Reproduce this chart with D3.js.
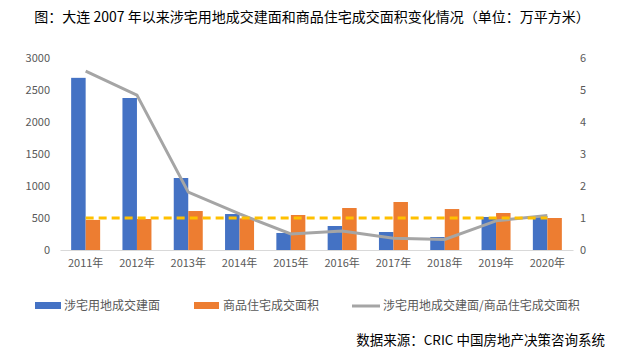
<!DOCTYPE html>
<html><head><meta charset="utf-8">
<script src="https://cdn.jsdelivr.net/npm/d3@7"></script>
<style>body{margin:0;background:#fff}svg{display:block}</style>
</head><body>
<svg id="c" width="619" height="356"></svg>
<script>
const categories = ["2011年","2012年","2013年","2014年","2015年","2016年","2017年","2018年","2019年","2020年"];
const landArea = [2690, 2375, 1125, 562, 266, 375, 281, 203, 516, 531];
const houseArea = [470, 484, 609, 495, 547, 656, 750, 640, 578, 500];
const ratio = [5.59, 4.84, 1.81, 1.13, 0.5, 0.59, 0.37, 0.33, 0.91, 1.08];
const refValue = 1;
const leftTicks = [0, 500, 1000, 1500, 2000, 2500, 3000];
const rightTicks = [0, 1, 2, 3, 4, 5, 6];
const titleText = "图：大连 2007 年以来涉宅用地成交建面和商品住宅成交面积变化情况（单位：万平方米）";
const legendLabels = ["涉宅用地成交建面", "商品住宅成交面积", "涉宅用地成交建面/商品住宅成交面积"];
const sourceText = "数据来源：CRIC 中国房地产决策咨询系统";

const font = "'Noto Sans CJK SC', 'Noto Sans', sans-serif";
const svg = d3.select("#c");
const L = 60, R = 573, T = 58, B = 250;

const x = d3.scaleBand().domain(categories).range([L, R]).paddingInner(0).paddingOuter(0);
const yL = d3.scaleLinear().domain([0, 3000]).range([B, T]);
const yR = d3.scaleLinear().domain([0, 6]).range([B, T]);
const bw = 14.5;

svg.append("text").attr("x", 312).attr("y", 22).attr("text-anchor", "middle")
  .attr("font-family", font).attr("font-size", 14).attr("fill", "#000").text(titleText);

// left axis
const axL = svg.append("g").attr("transform", `translate(${L},0)`)
  .call(d3.axisLeft(yL).tickValues(leftTicks).tickFormat(d3.format("d")).tickSize(0).tickPadding(10));
axL.select(".domain").remove();
axL.selectAll("text").attr("font-family", font).attr("font-size", 11).attr("fill", "#595959");

const axR = svg.append("g").attr("transform", `translate(${R},0)`)
  .call(d3.axisRight(yR).tickValues(rightTicks).tickFormat(d3.format("d")).tickSize(0).tickPadding(7));
axR.select(".domain").remove();
axR.selectAll("text").attr("font-family", font).attr("font-size", 11).attr("fill", "#595959");

// bars
svg.append("g").selectAll("rect").data(categories).join("rect")
  .attr("x", (d) => x(d) + x.bandwidth()/2 - bw)
  .attr("y", (d,i) => yL(landArea[i])).attr("width", bw)
  .attr("height", (d,i) => B - yL(landArea[i])).attr("fill", "#4472C4");
svg.append("g").selectAll("rect").data(categories).join("rect")
  .attr("x", (d) => x(d) + x.bandwidth()/2)
  .attr("y", (d,i) => yL(houseArea[i])).attr("width", bw)
  .attr("height", (d,i) => B - yL(houseArea[i])).attr("fill", "#ED7D31");

// x axis
const axB = svg.append("g").attr("transform", `translate(0,${B})`)
  .call(d3.axisBottom(x).tickSize(0).tickPadding(9));
axB.select(".domain").attr("stroke", "#D9D9D9").attr("stroke-width", 1);
axB.selectAll("text").attr("font-family", font).attr("font-size", 11).attr("fill", "#595959");

// ratio line
const cx = d => x(d) + x.bandwidth()/2;
svg.append("path").datum(categories)
  .attr("d", d3.line().x(d => cx(d)).y((d,i) => yR(ratio[i])))
  .attr("fill", "none").attr("stroke", "#A5A5A5").attr("stroke-width", 3);

// reference dashed line
svg.append("line")
  .attr("x1", cx(categories[0])).attr("x2", cx(categories[categories.length-1]))
  .attr("y1", yR(refValue)).attr("y2", yR(refValue))
  .attr("stroke", "#FFC000").attr("stroke-width", 3).attr("stroke-dasharray", "8,5");

// legend
const ly = 306;
const lg = svg.append("g").attr("font-family", font).attr("font-size", 12).attr("fill", "#595959");
lg.append("rect").attr("x", 35).attr("y", ly-4).attr("width", 26).attr("height", 7).attr("fill", "#4472C4");
lg.append("text").attr("x", 64).attr("y", ly+4).text(legendLabels[0]);
lg.append("rect").attr("x", 194).attr("y", ly-4).attr("width", 25).attr("height", 7).attr("fill", "#ED7D31");
lg.append("text").attr("x", 223).attr("y", ly+4).text(legendLabels[1]);
lg.append("line").attr("x1", 352).attr("x2", 380).attr("y1", ly).attr("y2", ly).attr("stroke", "#A5A5A5").attr("stroke-width", 3);
lg.append("text").attr("x", 383).attr("y", ly+4).text(legendLabels[2]);

svg.append("text").attr("x", 605).attr("y", 345).attr("text-anchor", "end")
  .attr("font-family", font).attr("font-size", 13.5).attr("fill", "#000").text(sourceText);
</script>
</body></html>
